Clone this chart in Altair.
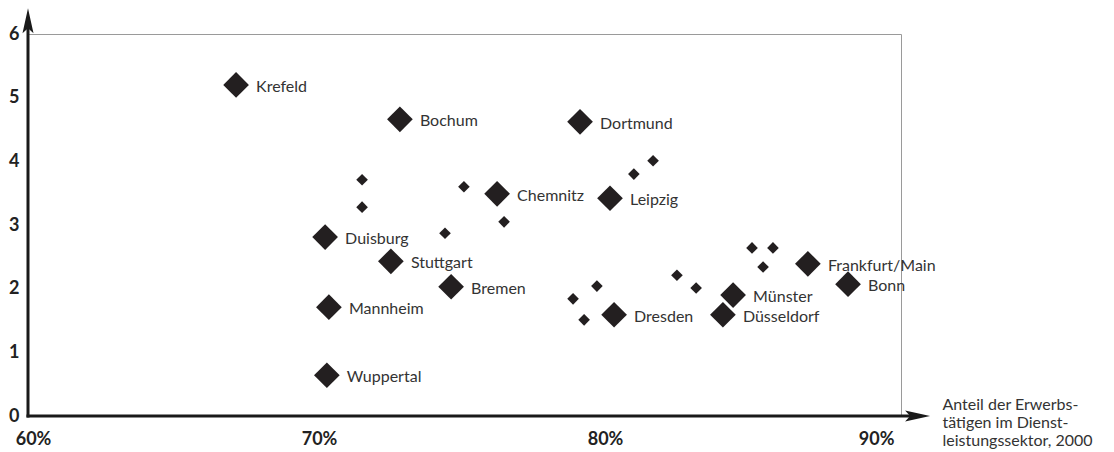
import altair as alt
import pandas as pd

# ---- data ----
city_names = ["Krefeld", "Bochum", "Dortmund", "Chemnitz", "Leipzig", "Duisburg",
              "Stuttgart", "Bremen", "Mannheim", "Wuppertal", "Dresden", "Münster",
              "Düsseldorf", "Frankfurt/Main", "Bonn"]
city_service_share = [67.15, 72.78, 78.97, 76.12, 80.00, 70.21, 72.47, 74.54, 70.34,
                      70.27, 80.14, 84.23, 83.88, 86.80, 88.18]
city_value = [5.20, 4.66, 4.62, 3.49, 3.42, 2.81, 2.43, 2.03, 1.71, 0.64, 1.59, 1.90,
              1.59, 2.39, 2.07]

other_service_share = [71.48, 71.48, 74.98, 76.36, 74.33, 80.82, 81.48, 78.73, 79.55,
                       79.11, 82.30, 82.96, 84.88, 85.60, 85.26]
other_value = [3.71, 3.28, 3.60, 3.05, 2.87, 3.80, 4.01, 1.84, 2.04, 1.51, 2.21, 2.01,
               2.64, 2.64, 2.34]

x_ticks = [60, 70, 80, 90]
y_ticks = [0, 1, 2, 3, 4, 5, 6]
x_title_lines = ["Anteil der Erwerbs-", "tätigen im Dienst-", "leistungssektor, 2000"]

# axis arrow extents (data units, arrow shafts run slightly past the frame)
x_arrow = {"share": 60, "share2": 90.6, "value": 0}
y_arrow = {"share": 60, "value": 0, "value2": 6.2}
x_head = {"share": 90.57, "value": 0}
y_head = {"share": 60, "value": 6.21}

cities = pd.DataFrame({"share": city_service_share, "value": city_value, "name": city_names})
others = pd.DataFrame({"share": other_service_share, "value": other_value})

xs = alt.Scale(domain=[60, 90], nice=False, zero=False)
ys = alt.Scale(domain=[0, 6], nice=False, zero=False)

DARK = "#231f20"
TEXT = "#333333"

x_axis = alt.Axis(
    values=x_ticks, labelExpr="datum.value + '%'", domain=False, ticks=False, grid=False,
    labelPadding=14, labelFont="Lato", labelFontSize=18, labelFontWeight="bold",
    labelColor="#222222", labelBaseline="top", labelOverlap=False, labelFlush=False,
    labelBound=False,
    labelAlign={"condition": {"test": "datum.value >= 90", "value": "right"}, "value": "center"},
    labelOffset={"condition": [{"test": "datum.value >= 90", "value": -7},
                               {"test": "datum.value == 60", "value": 5},
                               {"test": "datum.value == 80", "value": -5}], "value": 0},
    title=x_title_lines, titleX=914, titleY=-7, titleAlign="left", titleBaseline="alphabetic",
    titleFont="Lato", titleFontSize=16, titleFontWeight="normal", titleColor=TEXT,
    titleLineHeight=18,
)
y_axis = alt.Axis(
    values=y_ticks, domain=False, ticks=False, grid=False, labelPadding=9,
    labelFont="Lato", labelFontSize=18, labelFontWeight="bold", labelColor="#222222",
    labelBaseline="middle", labelAlign="right", labelFlush=False, labelOverlap=False,
    labelBound=False, title=None,
)

X = alt.X("share:Q", scale=xs, axis=x_axis)
Y = alt.Y("value:Q", scale=ys, axis=y_axis)

big = alt.Chart(cities).mark_point(
    shape="diamond", filled=True, size=660, color=DARK, opacity=1
).encode(x=X, y=Y)

labels = alt.Chart(cities).mark_text(
    align="left", baseline="middle", dx=20, dy=2, font="Lato", fontSize=16, color=TEXT
).encode(x=X, y=Y, text="name:N")

small = alt.Chart(others).mark_point(
    shape="diamond", filled=True, size=135, color=DARK, opacity=1
).encode(x=X, y=Y)

x_rule = alt.Chart(pd.DataFrame([x_arrow])).mark_rule(
    color="#1a1a1a", strokeWidth=3, strokeCap="square"
).encode(x=X, x2="share2:Q", y=Y)
y_rule = alt.Chart(pd.DataFrame([y_arrow])).mark_rule(
    color="#1a1a1a", strokeWidth=3, strokeCap="square"
).encode(x=X, y=Y, y2="value2:Q")
x_arrowhead = alt.Chart(pd.DataFrame([x_head])).mark_point(
    shape="M1,0L-1,-0.44L-0.6,0L-1,0.44Z", filled=True, size=625, color="#1a1a1a", opacity=1
).encode(x=X, y=Y)
y_arrowhead = alt.Chart(pd.DataFrame([y_head])).mark_point(
    shape="M0,-1L0.44,1L0,0.6L-0.44,1Z", filled=True, size=625, color="#1a1a1a", opacity=1
).encode(x=X, y=Y)

chart = alt.layer(
    big, small, labels, x_rule, y_rule, x_arrowhead, y_arrowhead
).properties(
    width=873, height=382,
    autosize=alt.AutoSizeParams(type="none"),
    padding={"left": 20, "top": 26, "right": 205, "bottom": 38},
    background="white",
).configure_view(stroke="#9a9a9a", strokeWidth=1)

chart.save("out.html", embed_options={"renderer": "svg", "actions": False})
